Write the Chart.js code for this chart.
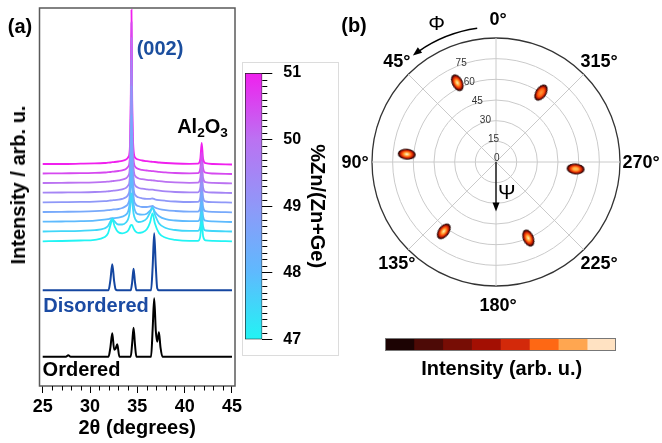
<!DOCTYPE html>
<html><head><meta charset="utf-8">
<script src="https://cdn.jsdelivr.net/npm/chart.js@4.4.1/dist/chart.umd.min.js"></script>
<style>
html,body{margin:0;padding:0;background:#fff;}
#wrap{position:relative;width:662px;height:443px;overflow:hidden;font-family:"Liberation Sans",Arial,sans-serif;color:#000;}
canvas{position:absolute;}
.t{position:absolute;transform:translate(-50%,-50%);white-space:nowrap;line-height:1;font-weight:bold;font-size:20px;}
.sub{font-size:0.68em;position:relative;top:0.3em;}
</style></head><body>
<div id="wrap">
<div style="position:absolute;left:242px;top:62px;width:95px;height:292px;border:1px solid #dcdcdc;"></div>
<canvas id="cbar" width="92" height="310" style="left:240px;top:50px"></canvas>
<canvas id="xrd" width="250" height="443" style="left:0;top:0"></canvas>
<canvas id="polar" width="322" height="443" style="left:340px;top:0"></canvas>
<canvas id="ibar" width="231" height="13" style="left:385px;top:338px"></canvas>

<div class="t" style="left:20px;top:25.5px">(a)</div>
<div class="t" style="left:160px;top:48px;color:#1b4e9e">(002)</div>
<div class="t" style="left:202.5px;top:126px">Al<span class="sub">2</span>O<span class="sub">3</span></div>
<div class="t" style="left:96px;top:305px;color:#1b4ba3">Disordered</div>
<div class="t" style="left:81.5px;top:369px">Ordered</div>
<div class="t" style="left:18px;top:185px;transform:translate(-50%,-50%) rotate(-90deg)">Intensity / arb. u.</div>
<div class="t" style="left:354px;top:25px">(b)</div>
<div class="t" style="left:436.7px;top:21.7px;font-weight:normal;font-size:21px">Φ</div>
<div class="t" style="left:506.7px;top:190.7px;font-weight:normal;font-size:21px">Ψ</div>
<div class="t" style="left:501.7px;top:368.3px">Intensity (arb. u.)</div>
</div>
<script>
// ---------------- DATA ----------------
// (a) XRD, 2θ in degrees, intensities in arb. u. (relative to each trace's baseline)
const xMajorTicks = [25, 30, 35, 40, 45];
const xMinorTicks = [26,27,28,29,31,32,33,34,36,37,38,39,41,42,43,44];

const simTheta = [25, 27.45, 27.7, 27.95, 31.95, 32.15, 32.35, 32.55, 32.7, 32.88, 33.1, 34.3, 34.45, 34.6, 34.75, 34.9, 36.45, 36.62, 36.78, 36.95, 37.1, 37.28, 37.45, 37.65, 45];
const orderedI    = [0, 0, 1.5, 0, 0, 9, 23.4, 7, 8, 12.4, 0, 0, 13, 29, 12, 0, 0, 28, 58.4, 26, 15, 24.4, 9, 0, 0];
const disorderedI = [0, 0, 0, 0, 0, 10, 26, 9, 1, 0, 0, 0, 8, 21.6, 8, 0, 0, 24, 57, 24, 2, 0, 0, 0, 0];
const orderedOffset = 29.3;
const disorderedOffset = 95.7;

const expTheta = [25, 27, 29, 30.5, 31.5, 31.9, 32.15, 32.35, 32.6, 33.0, 33.4, 33.8, 34.05, 34.2, 34.3, 34.38, 34.46, 34.6, 34.8, 35.1, 35.5, 36.0, 36.35, 36.6, 36.85, 37.3, 38.0, 39.0, 40.5, 41.4, 41.65, 41.8, 41.95, 42.2, 43.0, 45.0];
const exp47   = [0,0.3,0.8,1.5,4,8,16,22,15,9,8,9,11,14,16,16.5,16,13,10,8.5,9,12,19,28,18,8,3.5,1.5,0.5,0.5,5,20,5,1,0.5,0];
const exp47_5 = [0,0.3,0.7,1.3,3,5.5,10,13,10,7,7,9,13,20,32,38,30,18,12,9.5,10,13,19,24,17,8,3.5,1.5,0.6,0.6,5,20,5,1,0.5,0];
const exp48   = [0,0.2,0.5,1,2,2.6,3.2,3.6,3.6,4,5,7,11,20,38,52,36,18,10,7.5,7,8,11,14,10,5.5,2.5,1.2,0.5,0.5,5,20,5,1,0.3,-0.3];
const exp48_5 = [0,0.2,0.4,0.8,1.4,1.8,2.1,2.4,2.6,3,4,6,9,18,50,97,48,16,8,6,5,5,5.5,6,4.5,3,1.8,1,0.4,0.4,5,20,5,0.8,0.2,-0.3];
const exp49   = [0,0.2,0.4,0.7,1.2,1.5,1.8,2,2.2,2.7,3.5,5,8,16,55,117,55,15,7,5,4,3.5,3.5,3.8,3,2.2,1.5,0.8,0.3,0.4,5,20,5,0.8,0.2,-0.3];
const exp49_5 = [0,0.2,0.4,0.7,1.1,1.4,1.6,1.9,2.1,2.6,3.3,4.8,7.5,15,58,133,58,15,7,5,4,3.3,3,3,2.6,2,1.3,0.7,0.3,0.4,5,20,5,0.8,0.2,-0.3];
const exp50   = [0,0.2,0.4,0.7,1.1,1.4,1.6,1.9,2.1,2.6,3.3,4.7,7.3,15,60,145,60,15,6.8,4.8,3.8,3.1,2.8,2.7,2.4,1.8,1.2,0.6,0.2,0.3,5,21,5,0.8,0.1,-0.4];
const exp50_5 = [0,0.2,0.3,0.6,1,1.3,1.5,1.8,2,2.5,3.2,4.6,7.1,15,60,151,60,14,6.5,4.6,3.6,3,2.6,2.4,2.2,1.6,1.1,0.5,0.2,0.3,5,21,5,0.8,0,-0.5];
const exp51   = [0,0,0.3,0.6,1,1.3,1.5,1.8,2,2.5,3.2,4.5,7,15,60,154,60,14,6,4.5,3.5,2.8,2.4,2.2,2,1.5,1,0.5,0.2,0.3,5,21,5,0.8,0,-0.5];
const expSeries = [exp47, exp47_5, exp48, exp48_5, exp49, exp49_5, exp50, exp50_5, exp51];
const compositions = [47, 47.5, 48, 48.5, 49, 49.5, 50, 50.5, 51];
const expOffsets = [144.7, 154.5, 164.3, 174, 183.7, 193.3, 203, 212.5, 222];

// colour bar (a)
const cbarRange = [47, 51];
const cbarTicks = [47, 48, 49, 50, 51];
const colorStops = [[47,'#22f4f4'],[48,'#5ebafe'],[49,'#8f98f8'],[50,'#bb72f2'],[51,'#f020ee']];

// (b) pole figure: Φ (deg, counter-clockwise from top), Ψ (deg)
const angleTickValues = [0, 45, 90, 135, 180, 225, 270, 315];
const ringLabelValues = [0, 15, 30, 45, 60, 75];
const ringLabelPhi = 23;
const spotPhi = [26, 85, 143, 203, 265, 327];
const spotPsi = [64, 65, 63, 60, 58, 60];
const spotIntensity = [0.85, 1.0, 0.8, 0.8, 0.55, 0.45];

// intensity colour bar (b)
const intensityBins = [0,1,2,3,4,5,6,7,8];
const intensityColors = ['#1c0303','#4d0a06','#770d05','#a30f03','#d3290a','#fe6814','#ffa650','#ffe2c2'];

// ---------------- HELPERS ----------------
Chart.defaults.font.family = '"Liberation Sans", Arial, sans-serif';
Chart.defaults.color = '#000';
const FONT = '"Liberation Sans", Arial, sans-serif';

function hex2rgb(h){ return [parseInt(h.slice(1,3),16), parseInt(h.slice(3,5),16), parseInt(h.slice(5,7),16)]; }
function colorAt(v){
  for (let i=0;i<colorStops.length-1;i++){
    const [v0,c0]=colorStops[i],[v1,c1]=colorStops[i+1];
    if (v<=v1){ const t=(v-v0)/(v1-v0); const a=hex2rgb(c0),b=hex2rgb(c1);
      return 'rgb('+a.map((x,k)=>Math.round(x+(b[k]-x)*t)).join(',')+')'; }
  }
  return colorStops[colorStops.length-1][1];
}

// ---------------- (a) XRD ----------------
const xrdDatasets = [];
expSeries.forEach((arr, k) => {
  xrdDatasets.push({
    data: expTheta.map((t,i)=>({x:t, y: expOffsets[k] + arr[i]})),
    borderColor: colorAt(compositions[k]), borderWidth: 1.8,
    cubicInterpolationMode: 'monotone', pointRadius: 0, fill: false
  });
});
xrdDatasets.push({ data: simTheta.map((t,i)=>({x:t, y: disorderedOffset + disorderedI[i]})),
  borderColor:'#1446a0', borderWidth:2, cubicInterpolationMode:'monotone', pointRadius:0, fill:false });
xrdDatasets.push({ data: simTheta.map((t,i)=>({x:t, y: orderedOffset + orderedI[i]})),
  borderColor:'#000', borderWidth:2, cubicInterpolationMode:'monotone', pointRadius:0, fill:false });

const framePlugin = { id:'frame', afterDraw(chart){
  const {ctx, chartArea:a, scales:{x}} = chart;
  ctx.save();
  ctx.strokeStyle = '#5a5a5a'; ctx.lineWidth = 1.5;
  ctx.strokeRect(a.left, a.top, a.right-a.left, a.bottom-a.top);
  ctx.strokeStyle = '#000'; ctx.lineWidth = 1;
  xMinorTicks.forEach(v => { const px = Math.round(x.getPixelForValue(v))+0.5;
    ctx.beginPath(); ctx.moveTo(px, a.bottom); ctx.lineTo(px, a.bottom+4.5); ctx.stroke(); });
  ctx.restore();
}};

new Chart(document.getElementById('xrd'), {
  type:'line',
  data:{ datasets: xrdDatasets },
  options:{
    responsive:false, animation:false, events:[],
    layout:{ padding:{ left:39.5, right:15, top:8, bottom:0 } },
    plugins:{ legend:{display:false}, tooltip:{enabled:false} },
    scales:{
      x:{ type:'linear', min:24.66, max:45.32,
        afterBuildTicks: s => { s.ticks = xMajorTicks.map(v=>({value:v})); },
        afterFit: s => { s.height = 57; },
        grid:{ drawOnChartArea:false, drawTicks:true, tickLength:7, color:'#000', lineWidth:1 },
        border:{ display:false },
        ticks:{ font:{size:18, weight:'bold'}, color:'#000', padding:3, maxRotation:0, autoSkip:false },
        title:{ display:true, text:'2θ (degrees)', font:{size:20, weight:'bold'}, color:'#000', padding:{top:0,bottom:3} }
      },
      y:{ display:false, min:0, max:378 }
    }
  },
  plugins:[framePlugin]
});

// ---------------- (a) colour bar ----------------
const cbarMinor = { id:'cbarMinor', afterDraw(chart){
  const {ctx, chartArea:a, scales:{y}} = chart;
  ctx.save(); ctx.strokeStyle='#000'; ctx.lineWidth=1;
  for (let i=1;i<40;i++){ if (i%10===0) continue;
    const v = cbarRange[0] + i*0.1; const py = Math.round(y.getPixelForValue(v))+0.5;
    ctx.beginPath(); ctx.moveTo(a.right, py); ctx.lineTo(a.right+5, py); ctx.stroke(); }
  ctx.restore();
}};
new Chart(document.getElementById('cbar'), {
  type:'bar',
  data:{ labels:[''], datasets:[{ data:[[cbarRange[0], cbarRange[1]]],
    backgroundColor: c => { const ch=c.chart, a=ch.chartArea; if(!a) return '#f0f';
      const y=ch.scales.y; const g=ch.ctx.createLinearGradient(0,y.getPixelForValue(cbarRange[0]),0,y.getPixelForValue(cbarRange[1]));
      colorStops.forEach(([v,col])=>g.addColorStop((v-cbarRange[0])/(cbarRange[1]-cbarRange[0]), col)); return g; },
    borderColor:'#222', borderWidth:1, borderSkipped:false, barPercentage:1, categoryPercentage:1 }] },
  options:{
    responsive:false, animation:false, events:[],
    layout:{ padding:{ left:5, right:0, top:23, bottom:18 } },
    plugins:{ legend:{display:false}, tooltip:{enabled:false} },
    scales:{
      x:{ display:false },
      y:{ position:'right', min:cbarRange[0], max:cbarRange[1],
        afterBuildTicks: s => { s.ticks = cbarTicks.map(v=>({value:v})); },
        afterFit: s => { s.width = 69.7; },
        grid:{ drawOnChartArea:false, tickLength:10, color:'#000', lineWidth:1 },
        border:{ display:false },
        ticks:{ font:{size:16, weight:'bold'}, color:'#000', padding:11 },
        title:{ display:true, text:'%Zn/(Zn+Ge)', font:{size:20, weight:'bold'}, color:'#000', padding:{top:3,bottom:0} }
      }
    }
  },
  plugins:[cbarMinor]
});

// ---------------- (b) pole figure ----------------
const N = 360;
const angleLabels = Array.from({length:N}, (_,i) => ((N-i)%N) + '°');
const psiData = new Array(N).fill(null);
const spotAt = {};
spotPhi.forEach((p,k) => { psiData[(N-p)%N] = spotPsi[k]; spotAt[(N-p)%N] = k; });

function makeSpot(level){
  const c = document.createElement('canvas'); c.width = 20; c.height = 13;
  const g = c.getContext('2d');
  g.translate(10,6.5); g.scale(1, 0.6);
  const gr = g.createRadialGradient(0,0,0,0,0,9);
  const center = level > 0.9 ? '#fffdf0' : level > 0.7 ? '#fff2c0' : level > 0.5 ? '#ffc060' : '#ff9a3a';
  gr.addColorStop(0, center);
  gr.addColorStop(0.28, level > 0.5 ? '#ffb040' : '#ff7a20');
  gr.addColorStop(0.5, '#ff560a');
  gr.addColorStop(0.7, '#c81c02');
  gr.addColorStop(0.86, '#4a0400');
  gr.addColorStop(1, '#0a0000');
  g.beginPath(); g.arc(0,0,9,0,Math.PI*2); g.fillStyle = gr; g.fill();
  return c;
}
const spotImgs = spotIntensity.map(makeSpot);

const polarDeco = { id:'polarDeco', afterDatasetsDraw(chart){
  const s = chart.scales.r, ctx = chart.ctx;
  const xc = s.xCenter, yc = s.yCenter;
  ctx.save();
  // ring labels
  ctx.font = '10px ' + FONT; ctx.fillStyle = '#333'; ctx.textAlign = 'left'; ctx.textBaseline = 'bottom';
  ringLabelValues.forEach(v => { const p = s.getPointPositionForValue((N-ringLabelPhi)%N, v);
    ctx.fillText(String(v), p.x + (v===0 ? -2 : 0), p.y + 1); });
  // angle labels
  ctx.font = 'bold 18px ' + FONT; ctx.fillStyle = '#000'; ctx.textAlign = 'center'; ctx.textBaseline = 'middle';
  angleTickValues.forEach(phi => { const p = s.getPointPosition((N-phi)%N, s.drawingArea + 19);
    ctx.fillText(phi + '°', p.x + 2, p.y + 1); });
  // Φ arrow (counter-clockwise)
  ctx.strokeStyle = '#000'; ctx.fillStyle = '#000'; ctx.lineWidth = 1.5;
  const R = s.drawingArea + 11;
  const a1 = s.getIndexAngle(N-8) - Math.PI/2;
  const a2 = s.getIndexAngle(N-38) - Math.PI/2;
  const head = 9;
  ctx.beginPath(); ctx.arc(xc, yc, R, a1, a2 + head/R*0.8, true); ctx.stroke();
  const tip = {x: xc + R*Math.cos(a2), y: yc + R*Math.sin(a2)};
  const dir = {x: Math.sin(a2), y: -Math.cos(a2)};
  const nrm = {x: -dir.y, y: dir.x};
  ctx.beginPath(); ctx.moveTo(tip.x, tip.y);
  ctx.lineTo(tip.x - dir.x*head + nrm.x*3.5, tip.y - dir.y*head + nrm.y*3.5);
  ctx.lineTo(tip.x - dir.x*head - nrm.x*3.5, tip.y - dir.y*head - nrm.y*3.5);
  ctx.closePath(); ctx.fill();
  // Ψ arrow (radial)
  const pEnd = s.getPointPositionForValue(180, 36);
  ctx.lineWidth = 1.3;
  ctx.beginPath(); ctx.moveTo(xc, yc); ctx.lineTo(pEnd.x, pEnd.y - 7); ctx.stroke();
  ctx.beginPath(); ctx.moveTo(pEnd.x, pEnd.y); ctx.lineTo(pEnd.x - 3.5, pEnd.y - 9); ctx.lineTo(pEnd.x + 3.5, pEnd.y - 9); ctx.closePath(); ctx.fill();
  ctx.restore();
}};

new Chart(document.getElementById('polar'), {
  type:'radar',
  data:{ labels: angleLabels, datasets:[{ data: psiData, showLine:false, fill:false,
    pointRadius: 5,
    pointStyle: c => { const k = spotAt[c.dataIndex]; return k===undefined ? 'circle' : spotImgs[k]; },
    pointRotation: c => { const k = spotAt[c.dataIndex]; return k===undefined ? 0 : 90 - spotPhi[k]; },
    pointBackgroundColor:'#c00', pointBorderWidth:0 }] },
  options:{
    responsive:false, animation:false, events:[],
    layout:{ padding:{ left:31.5, right:41.5, top:38, bottom:156 } },
    plugins:{ legend:{display:false}, tooltip:{enabled:false} },
    scales:{ r:{ min:0, max:90, startAngle:0,
      ticks:{ display:false, stepSize:15 },
      pointLabels:{ display:false },
      grid:{ circular:true, color: c => (c.tick && c.tick.value===90) ? '#333' : '#cacaca', lineWidth: c => (c.tick && c.tick.value===90) ? 1.3 : 1 },
      angleLines:{ display:true, color:'#cacaca', lineWidth: c => (c.index % 45 === 0) ? 1 : 0 }
    } }
  },
  plugins:[polarDeco]
});

// ---------------- (b) intensity colour bar ----------------
const ibarBorder = { id:'ibarBorder', afterDraw(chart){
  const {ctx, chartArea:a} = chart; ctx.save(); ctx.strokeStyle='#777'; ctx.lineWidth=1;
  ctx.strokeRect(a.left+0.5, a.top+0.5, a.right-a.left-1, a.bottom-a.top-1); ctx.restore(); } };
new Chart(document.getElementById('ibar'), {
  type:'bar',
  data:{ labels:[''], datasets: intensityColors.map((col,i)=>({ data:[[intensityBins[i], intensityBins[i+1]]],
    backgroundColor:col, borderWidth:0, barPercentage:1, categoryPercentage:1 })) },
  options:{ indexAxis:'y', responsive:false, animation:false, events:[],
    layout:{ padding:0 },
    plugins:{ legend:{display:false}, tooltip:{enabled:false} },
    scales:{ x:{ display:false, min:intensityBins[0], max:intensityBins[intensityBins.length-1] },
             y:{ display:false, stacked:true } } },
  plugins:[ibarBorder]
});
</script>
</body></html>
